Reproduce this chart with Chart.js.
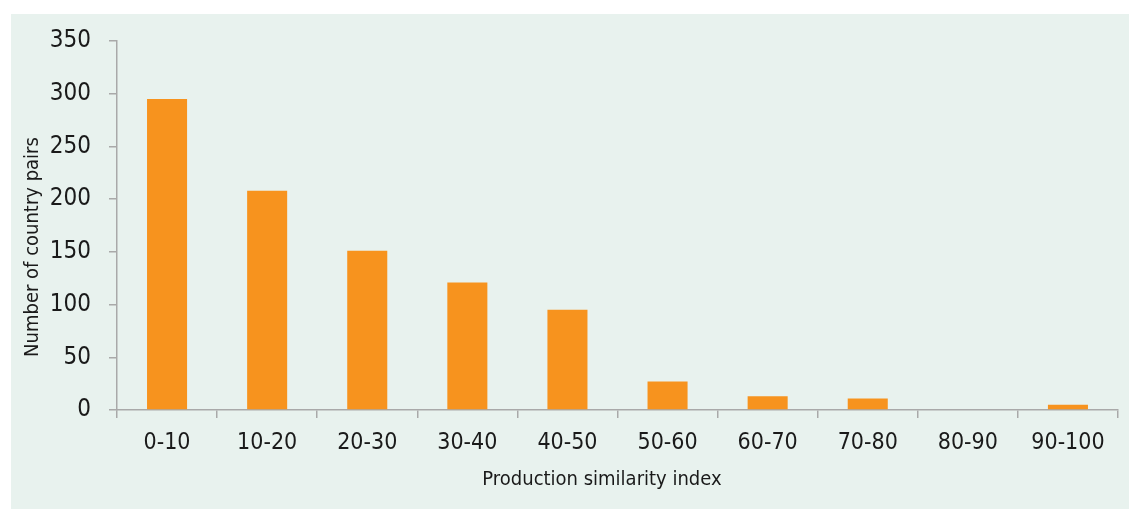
<!DOCTYPE html>
<html>
<head>
<meta charset="utf-8">
<script src="https://cdn.jsdelivr.net/npm/chart.js@4.4.1/dist/chart.umd.min.js"></script>
<style>
    html, body { margin: 0; padding: 0; background: #ffffff; }
    #panel {
        position: absolute;
        left: 11px; top: 14px;
        width: 1118px; height: 495px;
        background: #e8f2ee;
    }
</style>
</head>
<body>
<div id="panel"><canvas id="chart" width="1118" height="495"></canvas></div>
<script>
const categories = ['0-10', '10-20', '20-30', '30-40', '40-50', '50-60', '60-70', '70-80', '80-90', '90-100'];
const countryPairs = [295, 208, 151, 121, 95, 27, 13, 11, 0, 5];
const yTicks = [0, 50, 100, 150, 200, 250, 300, 350];
const xTitle = 'Production similarity index';
const yTitle = 'Number of country pairs';

const fontFamily = '"DejaVu Sans Condensed", "Liberation Sans Narrow", sans-serif';
const axisColor = '#a9a9a9';
const textColor = '#1a1a1a';

// axis titles placed by hand, the reference has them off-centre
const axisTitles = {
    id: 'axisTitles',
    afterDraw(chart) {
        const ctx = chart.ctx;
        ctx.save();
        ctx.fillStyle = textColor;
        ctx.font = '20px ' + fontFamily;
        ctx.textAlign = 'center';
        ctx.textBaseline = 'middle';
        ctx.fillText(xTitle, 591, 466);
        ctx.translate(22, 233);
        ctx.rotate(-Math.PI / 2);
        ctx.fillText(yTitle, 0, 0);
        ctx.restore();
    }
};

function chartSetup(chart) {
    const data = {
        labels: categories,
        datasets: [{
            label: yTitle,
            data: countryPairs,
            backgroundColor: '#f7931e',
            borderWidth: 0,
            barPercentage: 0.4,
            categoryPercentage: 1.0
        }]
    };

    const config = {
        type: 'bar',
        data: data,
        options: {
            responsive: false,
            animation: false,
            layout: {
                padding: { top: 27, right: 11, bottom: 0, left: 0 }
            },
            scales: {
                y: {
                    min: 0,
                    max: 350,
                    afterBuildTicks: axis => {
                        axis.ticks = yTicks.map(v => ({ value: v }));
                    },
                    afterFit: axis => {
                        axis.width = 106;
                        axis.paddingTop = 0;
                        axis.paddingBottom = 0;
                    },
                    border: { display: true, color: axisColor, width: 1.5 },
                    grid: {
                        drawOnChartArea: false,
                        drawTicks: true,
                        tickLength: 8,
                        color: axisColor,
                        lineWidth: 1.5
                    },
                    ticks: {
                        color: textColor,
                        padding: 18,
                        font: { size: 24, family: fontFamily }
                    }
                },
                x: {
                    afterFit: axis => { axis.height = 99; },
                    border: { display: true, color: axisColor, width: 1.5 },
                    grid: {
                        drawOnChartArea: false,
                        drawTicks: true,
                        tickLength: 8,
                        offset: true,
                        color: axisColor,
                        lineWidth: 1.5
                    },
                    ticks: {
                        color: textColor,
                        padding: 11,
                        maxRotation: 0,
                        font: { size: 23, family: fontFamily }
                    }
                }
            },
            plugins: {
                legend: { display: false },
                tooltip: { enabled: false }
            }
        },
        plugins: [axisTitles]
    };
    new Chart(chart, config);
}

chartSetup(document.getElementById('chart'));
</script>
</body>
</html>
